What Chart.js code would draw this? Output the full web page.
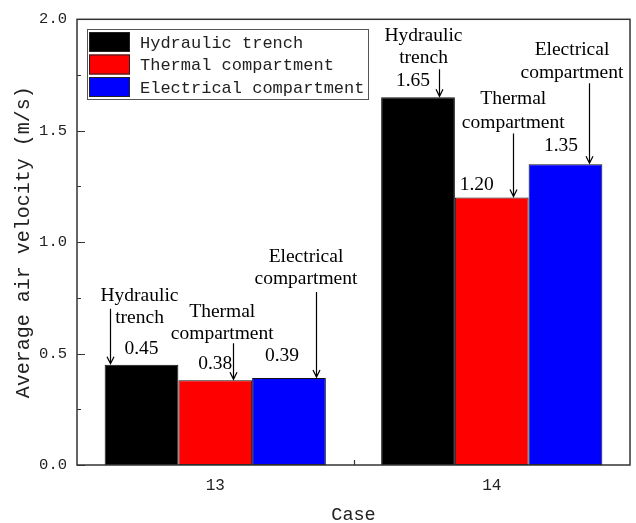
<!DOCTYPE html>
<html>
<head>
<meta charset="utf-8">
<script src="https://cdn.jsdelivr.net/npm/chart.js@4/dist/chart.umd.min.js"></script>
<style>
  html, body { margin: 0; padding: 0; background: #fff; }
  #wrap { width: 636px; height: 523px; position: relative; }
</style>
</head>
<body>
<div id="wrap"><canvas id="c"></canvas></div>
<script>
// Cases on the x axis
const cases = ['13', '14'];
// Series names
const seriesNames = ['Hydraulic trench', 'Thermal compartment', 'Electrical compartment'];
// Average air velocity (m/s) per series, one value per case
const hydraulicTrench = [0.45, 1.65];
const thermalCompartment = [0.38, 1.20];
const electricalCompartment = [0.39, 1.35];
// Y axis tick values
const yTicks = [0.0, 0.5, 1.0, 1.5, 2.0];

const seriesColors = ['#000000', '#ff0000', '#0000ff'];
const monoFont = '"Liberation Mono", "DejaVu Sans Mono", monospace';
const serifFont = '"Liberation Serif", "Times New Roman", serif';

// Callout placement around each bar, in pixels relative to bar centre / bar top
const calloutLayout = [
  { ds: 0, i: 0, arrowDx: -32, arrowFrom: -56, nameDx: -2, line1: -69, line2: -47, valDx: 0, valDy: -16 },
  { ds: 1, i: 0, arrowDx: 17.5, arrowFrom: -37, nameDx: 7, line1: -68, line2: -46, valDx: 0, valDy: -16 },
  { ds: 2, i: 0, arrowDx: 27, arrowFrom: -86, nameDx: 17, line1: -121, line2: -99, valDx: -7, valDy: -22 },
  { ds: 0, i: 1, arrowDx: 21, arrowFrom: -28, nameDx: 5.5, line1: -61, line2: -39, valDx: -5, valDy: -16 },
  { ds: 1, i: 1, arrowDx: 21, arrowFrom: -64, nameDx: 21.5, line1: -99, line2: -75, valDx: -15, valDy: -13 },
  { ds: 2, i: 1, arrowDx: 23.5, arrowFrom: -81, nameDx: 6.5, line1: -114, line2: -91, valDx: -4.5, valDy: -18 }
];

// Frame, inward ticks, in-plot legend and labelled arrows
const decorations = {
  id: 'decorations',
  afterDatasetsDraw(chart) {
    const ctx = chart.ctx;
    const a = chart.chartArea;
    const xs = chart.scales.x, ys = chart.scales.y;
    ctx.save();

    // Frame
    ctx.strokeStyle = '#333';
    ctx.lineWidth = 1.5;
    ctx.strokeRect(a.left, a.top, a.right - a.left, a.bottom - a.top);

    // Y ticks (major every 0.5, minor between)
    ctx.lineWidth = 1.2;
    ctx.beginPath();
    for (let v = 0; v <= 2.0001; v += 0.25) {
      const y = Math.round(ys.getPixelForValue(v)) + 0.5;
      const major = Math.abs(v / 0.5 - Math.round(v / 0.5)) < 1e-6;
      ctx.moveTo(a.left, y);
      ctx.lineTo(a.left + (major ? 8 : 4), y);
    }
    // X minor tick between cases
    for (let k = 0; k < cases.length - 1; k++) {
      const x = Math.round((xs.getPixelForValue(k) + xs.getPixelForValue(k + 1)) / 2) + 0.5;
      ctx.moveTo(x, a.bottom);
      ctx.lineTo(x, a.bottom - 5);
    }
    ctx.stroke();

    // Legend inside plot
    const lx = 87.5, ly = 29.5, lw = 281, lh = 70;
    ctx.strokeStyle = '#555';
    ctx.lineWidth = 1;
    ctx.strokeRect(lx, ly, lw, lh);
    ctx.font = '17px ' + monoFont;
    ctx.textBaseline = 'middle';
    ctx.textAlign = 'left';
    chart.data.datasets.forEach((d, k) => {
      const ry = 32 + k * 22.5;
      ctx.fillStyle = d.backgroundColor;
      ctx.fillRect(89, ry, 41, 20);
      ctx.strokeStyle = '#222';
      ctx.strokeRect(89.5, ry + 0.5, 40, 19);
      ctx.fillStyle = '#222';
      ctx.fillText(d.label, 140, ry + 11);
    });

    // Callouts: series name, value and arrow down to the bar
    ctx.font = '19.5px ' + serifFont;
    ctx.textAlign = 'center';
    ctx.fillStyle = '#000';
    ctx.strokeStyle = '#000';
    calloutLayout.forEach(c => {
      const bar = chart.getDatasetMeta(c.ds).data[c.i];
      const value = chart.data.datasets[c.ds].data[c.i];
      const cx = bar.x, top = bar.y;
      const words = chart.data.datasets[c.ds].label.split(' ');
      ctx.fillText(words[0], cx + c.nameDx, top + c.line1);
      ctx.fillText(words.slice(1).join(' '), cx + c.nameDx, top + c.line2);
      ctx.fillText(value.toFixed(2), cx + c.valDx, top + c.valDy);
      const ax = Math.round(cx + c.arrowDx) + 0.5;
      ctx.lineWidth = 1.2;
      ctx.beginPath();
      ctx.moveTo(ax, top + c.arrowFrom);
      ctx.lineTo(ax, top - 1);
      ctx.moveTo(ax - 3.5, top - 8);
      ctx.lineTo(ax, top - 1);
      ctx.lineTo(ax + 3.5, top - 8);
      ctx.stroke();
    });

    ctx.restore();
  }
};

const seriesValues = [hydraulicTrench, thermalCompartment, electricalCompartment];

new Chart(document.getElementById('c'), {
  type: 'bar',
  data: {
    labels: cases,
    datasets: seriesNames.map((name, k) => ({
      label: name,
      data: seriesValues[k],
      backgroundColor: seriesColors[k],
      borderColor: '#111',
      borderWidth: 1,
      borderSkipped: false,
      categoryPercentage: 0.8,
      barPercentage: 1.0
    }))
  },
  options: {
    responsive: true,
    maintainAspectRatio: false,
    animation: false,
    events: [],
    layout: { padding: { left: 0, right: 6, top: 18, bottom: 0 } },
    plugins: {
      legend: { display: false },
      tooltip: { enabled: false }
    },
    scales: {
      x: {
        grid: { display: false, drawTicks: false },
        border: { display: false },
        ticks: {
          color: '#222',
          padding: 11,
          font: { family: monoFont, size: 16 }
        },
        title: {
          display: true,
          text: 'Case',
          color: '#222',
          font: { family: monoFont, size: 18.5, lineHeight: 0.85 },
          padding: 0
        },
        afterFit(s) { s.height = 58; }
      },
      y: {
        min: 0,
        max: 2.0,
        afterBuildTicks(s) { s.ticks = yTicks.map(v => ({ value: v })); },
        grid: { display: false, drawTicks: false },
        border: { display: false },
        ticks: {
          color: '#222',
          padding: 10,
          font: { family: monoFont, size: 15.5 },
          callback: v => Number(v).toFixed(1)
        },
        title: {
          display: true,
          text: 'Average air velocity (m/s)',
          color: '#222',
          font: { family: monoFont, size: 20 },
          padding: { top: 12, bottom: 0 }
        },
        afterFit(s) { s.width = 77; }
      }
    }
  },
  plugins: [decorations]
});
</script>
</body>
</html>
